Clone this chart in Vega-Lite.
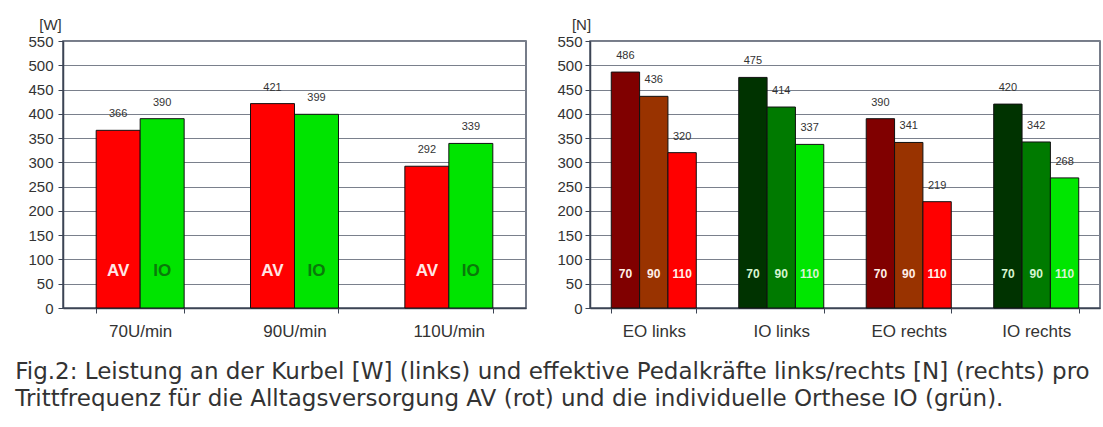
{
  "$schema": "https://vega.github.io/schema/vega-lite/v6.json",
  "background": "white",
  "padding": {"left": 15, "top": 16, "right": 5, "bottom": 5},
  "config": {
    "font": "Liberation Sans",
    "view": {"stroke": "#4a5263", "strokeWidth": 1.5},
    "axis": {"labelFont": "Liberation Sans", "labelColor": "#333333", "titleColor": "#333333", "domainColor": "#3c4454", "tickColor": "#3c4454", "gridColor": "#7a808c"}
  },
  "title": {
    "text": ["Fig.2: Leistung an der Kurbel [W] (links) und effektive Pedalkräfte links/rechts [N] (rechts) pro", "Trittfrequenz für die Alltagsversorgung AV (rot) und die individuelle Orthese IO (grün)."],
    "orient": "bottom",
    "anchor": "start",
    "fontSize": 23,
    "fontWeight": "normal",
    "font": "DejaVu Sans",
    "color": "#333333",
    "lineHeight": 27,
    "offset": 21,
    "dx": -12
  },
  "datasets": {
    "leistung": [
      {"Frequenz": "70U/min", "Serie": "AV", "Wert": 366},
      {"Frequenz": "70U/min", "Serie": "IO", "Wert": 390},
      {"Frequenz": "90U/min", "Serie": "AV", "Wert": 421},
      {"Frequenz": "90U/min", "Serie": "IO", "Wert": 399},
      {"Frequenz": "110U/min", "Serie": "AV", "Wert": 292},
      {"Frequenz": "110U/min", "Serie": "IO", "Wert": 339}
    ],
    "kraft": [
      {"Gruppe": "EO links", "Typ": "EO", "Freq": "70", "Wert": 486},
      {"Gruppe": "EO links", "Typ": "EO", "Freq": "90", "Wert": 436},
      {"Gruppe": "EO links", "Typ": "EO", "Freq": "110", "Wert": 320},
      {"Gruppe": "IO links", "Typ": "IO", "Freq": "70", "Wert": 475},
      {"Gruppe": "IO links", "Typ": "IO", "Freq": "90", "Wert": 414},
      {"Gruppe": "IO links", "Typ": "IO", "Freq": "110", "Wert": 337},
      {"Gruppe": "EO rechts", "Typ": "EO", "Freq": "70", "Wert": 390},
      {"Gruppe": "EO rechts", "Typ": "EO", "Freq": "90", "Wert": 341},
      {"Gruppe": "EO rechts", "Typ": "EO", "Freq": "110", "Wert": 219},
      {"Gruppe": "IO rechts", "Typ": "IO", "Freq": "70", "Wert": 420},
      {"Gruppe": "IO rechts", "Typ": "IO", "Freq": "90", "Wert": 342},
      {"Gruppe": "IO rechts", "Typ": "IO", "Freq": "110", "Wert": 268}
    ]
  },
  "resolve": {"scale": {"color": "independent", "xOffset": "independent"}},
  "hconcat": [
    {
      "width": 463,
      "height": 267,
      "data": {"name": "leistung"},
      "encoding": {
        "x": {"field": "Frequenz", "type": "nominal", "sort": ["70U/min", "90U/min", "110U/min"],
          "scale": {"paddingInner": 0.43, "paddingOuter": 0.215},
          "axis": {"title": null, "labelAngle": 0, "labelFontSize": 17, "tickBand": "extent", "tickSize": 5, "labelPadding": 10, "domainWidth": 1.5}},
        "xOffset": {"field": "Serie", "type": "nominal", "sort": ["AV", "IO"], "scale": {"paddingInner": 0, "paddingOuter": 0}}
      },
      "layer": [
        {
          "mark": {"type": "bar", "stroke": "#111111", "strokeWidth": 1},
          "encoding": {
            "y": {"field": "Wert", "type": "quantitative", "scale": {"domain": [0, 550], "nice": false},
              "axis": {"values": [0, 50, 100, 150, 200, 250, 300, 350, 400, 450, 500, 550], "labelOverlap": false, "title": "[W]", "titleAngle": 0, "titleAlign": "center", "titleBaseline": "alphabetic", "titleX": -13, "titleY": -12, "titleFontSize": 15, "titleFontWeight": "normal", "labelFontSize": 15, "tickSize": 5, "labelPadding": 5, "gridWidth": 1, "domainWidth": 1.5}},
            "color": {"field": "Serie", "type": "nominal", "scale": {"domain": ["AV", "IO"], "range": ["#ff0000", "#00e400"]}, "legend": null}
          }
        },
        {
          "mark": {"type": "text", "baseline": "bottom", "dy": -11, "fontSize": 11, "color": "#333333"},
          "encoding": {
            "y": {"field": "Wert", "type": "quantitative", "scale": {"domain": [0, 550], "nice": false},
              "axis": {"values": [0, 50, 100, 150, 200, 250, 300, 350, 400, 450, 500, 550], "labelOverlap": false, "title": "[W]", "titleAngle": 0, "titleAlign": "center", "titleBaseline": "alphabetic", "titleX": -13, "titleY": -12, "titleFontSize": 15, "titleFontWeight": "normal", "labelFontSize": 15, "tickSize": 5, "labelPadding": 5, "gridWidth": 1, "domainWidth": 1.5}},
            "text": {"field": "Wert", "type": "quantitative"}
          }
        },
        {
          "mark": {"type": "text", "baseline": "middle", "fontSize": 17, "fontWeight": "bold"},
          "encoding": {
            "y": {"datum": 76, "type": "quantitative", "scale": {"domain": [0, 550], "nice": false},
              "axis": {"values": [0, 50, 100, 150, 200, 250, 300, 350, 400, 450, 500, 550], "labelOverlap": false, "title": "[W]", "titleAngle": 0, "titleAlign": "center", "titleBaseline": "alphabetic", "titleX": -13, "titleY": -12, "titleFontSize": 15, "titleFontWeight": "normal", "labelFontSize": 15, "tickSize": 5, "labelPadding": 5, "gridWidth": 1, "domainWidth": 1.5}},
            "text": {"field": "Serie", "type": "nominal"},
            "color": {"condition": {"test": "datum.Serie === 'AV'", "value": "#ffe6e6"}, "value": "#0a7a0a"}
          }
        }
      ]
    },
    {
      "width": 510,
      "height": 267,
      "data": {"name": "kraft"},
      "transform": [{"calculate": "datum.Typ + ' ' + datum.Freq", "as": "Reihe"}],
      "encoding": {
        "x": {"field": "Gruppe", "type": "nominal", "sort": ["EO links", "IO links", "EO rechts", "IO rechts"],
          "scale": {"paddingInner": 0.333, "paddingOuter": 0.1667},
          "axis": {"title": null, "labelAngle": 0, "labelFontSize": 17, "tickBand": "extent", "tickSize": 5, "labelPadding": 10, "domainWidth": 1.5}},
        "xOffset": {"field": "Freq", "type": "nominal", "sort": ["70", "90", "110"], "scale": {"paddingInner": 0, "paddingOuter": 0}}
      },
      "layer": [
        {
          "mark": {"type": "bar", "stroke": "#111111", "strokeWidth": 1},
          "encoding": {
            "y": {"field": "Wert", "type": "quantitative", "scale": {"domain": [0, 550], "nice": false},
              "axis": {"values": [0, 50, 100, 150, 200, 250, 300, 350, 400, 450, 500, 550], "labelOverlap": false, "title": "[N]", "titleAngle": 0, "titleAlign": "center", "titleBaseline": "alphabetic", "titleX": -9, "titleY": -12, "titleFontSize": 15, "titleFontWeight": "normal", "labelFontSize": 15, "tickSize": 5, "labelPadding": 3, "gridWidth": 1, "domainWidth": 1.5}},
            "color": {"field": "Reihe", "type": "nominal",
              "scale": {"domain": ["EO 70", "EO 90", "EO 110", "IO 70", "IO 90", "IO 110"], "range": ["#800000", "#993300", "#ff0000", "#003300", "#007a00", "#00e600"]}, "legend": null}
          }
        },
        {
          "mark": {"type": "text", "baseline": "bottom", "dy": -11, "fontSize": 11, "color": "#333333"},
          "encoding": {
            "y": {"field": "Wert", "type": "quantitative", "scale": {"domain": [0, 550], "nice": false},
              "axis": {"values": [0, 50, 100, 150, 200, 250, 300, 350, 400, 450, 500, 550], "labelOverlap": false, "title": "[N]", "titleAngle": 0, "titleAlign": "center", "titleBaseline": "alphabetic", "titleX": -9, "titleY": -12, "titleFontSize": 15, "titleFontWeight": "normal", "labelFontSize": 15, "tickSize": 5, "labelPadding": 3, "gridWidth": 1, "domainWidth": 1.5}},
            "text": {"field": "Wert", "type": "quantitative"}
          }
        },
        {
          "mark": {"type": "text", "baseline": "middle", "fontSize": 12, "fontWeight": "bold"},
          "encoding": {
            "y": {"datum": 70, "type": "quantitative", "scale": {"domain": [0, 550], "nice": false},
              "axis": {"values": [0, 50, 100, 150, 200, 250, 300, 350, 400, 450, 500, 550], "labelOverlap": false, "title": "[N]", "titleAngle": 0, "titleAlign": "center", "titleBaseline": "alphabetic", "titleX": -9, "titleY": -12, "titleFontSize": 15, "titleFontWeight": "normal", "labelFontSize": 15, "tickSize": 5, "labelPadding": 3, "gridWidth": 1, "domainWidth": 1.5}},
            "text": {"field": "Freq", "type": "nominal"},
            "color": {"condition": {"test": "datum.Typ === 'EO'", "value": "#fff0e8"}, "value": "#d6f5d0"}
          }
        }
      ]
    }
  ],
  "spacing": 64,
  "bounds": "flush"
}
